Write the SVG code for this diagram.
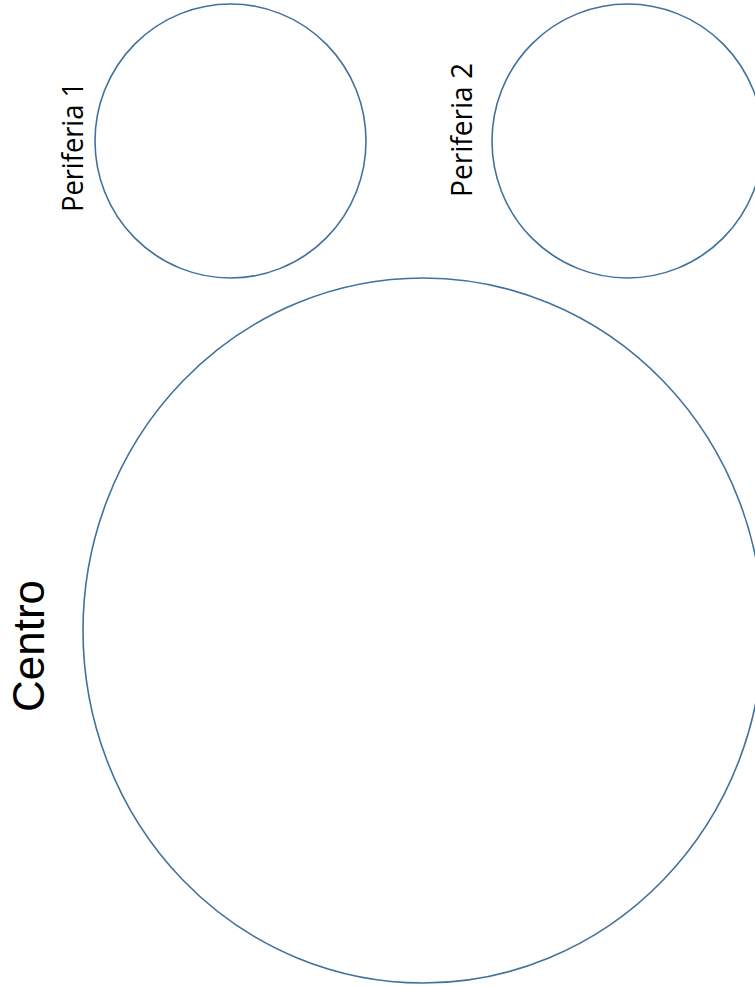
<svg xmlns="http://www.w3.org/2000/svg" width="755" height="987" viewBox="0 0 755 987">
<style>
.c{fill:#ffffff;stroke:#41719C;stroke-width:1.6}
.t{font-family:"Open Sans","Liberation Sans",Arial,sans-serif;fill:#000000;text-anchor:middle}
.big{font-family:"Liberation Sans",Arial,sans-serif;fill:#000000;text-anchor:middle}
</style>
<rect width="755" height="987" fill="#ffffff"/>
<g id="connectors"></g>
<g id="periferia1">
<ellipse class="c" cx="230.5" cy="141" rx="135.5" ry="137"/>
<text class="t" font-size="30" transform="translate(83,147) rotate(-90)" textLength="130" lengthAdjust="spacingAndGlyphs">Periferia 1</text>
</g>
<g id="periferia2">
<ellipse class="c" cx="627.5" cy="141" rx="135.5" ry="137"/>
<text class="t" font-size="30" transform="translate(472,130) rotate(-90)" textLength="134" lengthAdjust="spacingAndGlyphs">Periferia 2</text>
</g>
<g id="centro">
<ellipse class="c" cx="423" cy="630.5" rx="340" ry="352.5"/>
<text class="big" font-size="44" transform="translate(44,646) rotate(-90)" textLength="132" lengthAdjust="spacingAndGlyphs">Centro</text>
</g>
</svg>
